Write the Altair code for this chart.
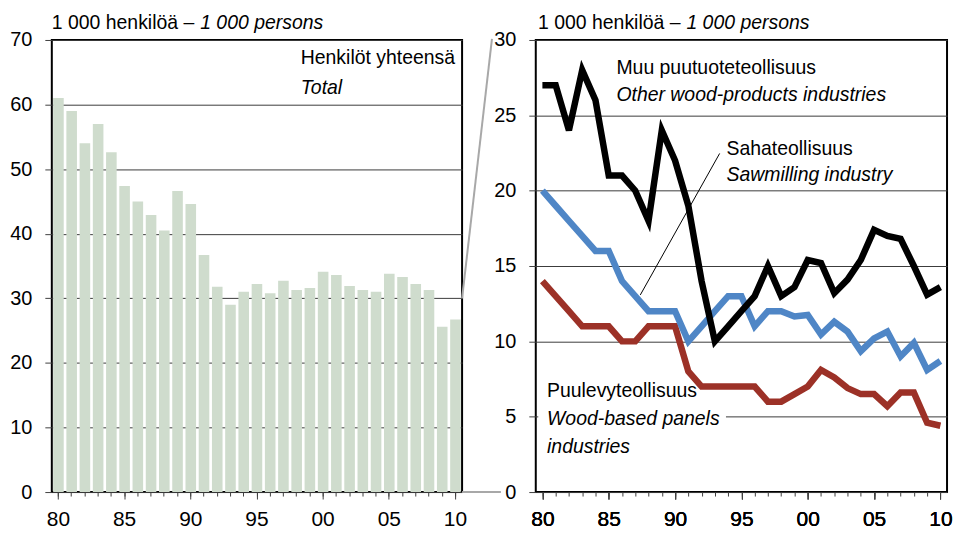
import altair as alt
import pandas as pd

# ---------------- data ----------------
years = list(range(1980, 2011))
total = [61.0, 59.0, 54.0, 57.0, 52.6, 47.4, 45.0, 42.9, 40.5, 46.6, 44.6,
         36.7, 31.8, 29.0, 31.0, 32.2, 30.8, 32.7, 31.3, 31.6, 34.1,
         33.6, 31.9, 31.3, 31.0, 33.8, 33.3, 32.2, 31.3, 25.6, 26.7]
other_wood = [27, 27, 24, 28, 26, 21, 21, 20, 18, 24, 22,
              19, 14, 10, 11, 12, 13, 15, 13, 13.6, 15.4,
              15.2, 13.2, 14.1, 15.4, 17.4, 17.0, 16.8, 15.0, 13.1, 13.6]
sawmill = [20, 19, 18, 17, 16, 16, 14, 13, 12, 12, 12,
           10, 11, 12, 13, 13, 11, 12, 12, 11.65, 11.75,
           10.45, 11.3, 10.65, 9.35, 10.2, 10.65, 9.0, 9.9, 8.1, 8.7]
panels = [14, 13, 12, 11, 11, 11, 10, 10, 11, 11, 11,
          8, 7, 7, 7, 7, 7, 6, 6, 6.5, 7.0,
          8.1, 7.6, 6.9, 6.5, 6.5, 5.7, 6.6, 6.6, 4.6, 4.4]
major_years = [1980, 1985, 1990, 1995, 2000, 2005, 2010]
left_ticks = list(range(0, 71, 10))
right_ticks = list(range(0, 31, 5))

# ---------------- style ----------------
FONT = "Liberation Sans, Arial, sans-serif"
WL, WR, H = 412, 413, 454
SPACING = 74
BAR = "#cfdccd"
BLACK = "#000000"
BLUE = "#4f86c6"
RED = "#9c3127"
GRID = "#3a3a3a"
TICK = "#404040"
LABEL_EXPR = "substring(toString(datum.value), 2, 4)"
TITLE_Y = -11

dummy = alt.Data(values=[{"a": 1}])


def txt(text, x, y, italic=False, size=19.5):
    return alt.Chart(dummy).mark_text(
        text=text, align="left", baseline="alphabetic", font=FONT,
        fontSize=size, fontStyle="italic" if italic else "normal", color="black"
    ).encode(x=alt.value(x), y=alt.value(y))


def x_major_axis():
    return alt.Axis(values=major_years, labelExpr=LABEL_EXPR, tickSize=7,
                    labelAngle=0, title=None, domain=False, grid=False,
                    labelFont=FONT, labelFontSize=21, labelPadding=10,
                    labelColor="black", tickColor=TICK, orient="bottom")


def x_minor_axis():
    return alt.Axis(values=years, labels=False, tickSize=4, title=None,
                    domain=False, grid=False, tickColor=TICK, orient="bottom")


def y_axis(vals):
    return alt.Axis(values=vals, tickSize=7, labelPadding=13, grid=True,
                    gridColor=GRID, gridWidth=1, domain=False, title=None,
                    labelFont=FONT, labelFontSize=20, labelColor="black",
                    tickColor=TICK)


# ---------------- left panel: bars ----------------
bar_df = pd.DataFrame({"year": years, "total": total})
xband = alt.Scale(paddingInner=0.2, paddingOuter=0.1)
yscale_l = alt.Scale(domain=[0, 70], nice=False)

bars = alt.Chart(bar_df).mark_bar(color=BAR).encode(
    x=alt.X("year:O", scale=xband, axis=x_major_axis()),
    y=alt.Y("total:Q", scale=yscale_l, axis=y_axis(left_ticks)),
)
bars_minor = alt.Chart(bar_df).mark_point(opacity=0).encode(
    x=alt.X("year:O", scale=xband, axis=x_minor_axis()),
)
connector1 = alt.Chart(dummy).mark_rule(color="#a8a8a8", strokeWidth=2).encode(
    x=alt.value(WL), y=alt.YDatum(30, scale=yscale_l, axis=y_axis(left_ticks)),
    x2=alt.value(WL + 30), y2=alt.value(-1)
)
connector2 = alt.Chart(dummy).mark_rule(color="#a8a8a8", strokeWidth=2).encode(
    x=alt.value(WL), x2=alt.value(WL + 39), y=alt.value(H)
)

left = alt.layer(
    bars, bars_minor, connector1, connector2,
    txt("1 000 henkilöä –", 0, TITLE_Y),
    txt("1 000 persons", 149, TITLE_Y, italic=True),
    txt("Henkilöt yhteensä", 250, 24.5),
    txt("Total", 250, 54.3, italic=True),
).resolve_axis(x="independent").properties(width=WL, height=H)

# ---------------- right panel: lines ----------------
xlin = alt.Scale(domain=[1979.5, 2010.5], nice=False, zero=False)
yscale_r = alt.Scale(domain=[0, 30], nice=False)


def series_line(vals, color):
    df = pd.DataFrame({"year": years, "value": vals})
    return alt.Chart(df).mark_line(color=color, strokeWidth=6.5).encode(
        x=alt.X("year:Q", scale=xlin, axis=x_major_axis()),
        y=alt.Y("value:Q", scale=yscale_r, axis=y_axis(right_ticks)),
    )


line_minor = alt.Chart(pd.DataFrame({"year": years})).mark_point(opacity=0).encode(
    x=alt.X("year:Q", scale=xlin, axis=x_minor_axis()),
)
white_box = alt.Chart(dummy).mark_rect(color="white").encode(
    x=alt.value(2.5), x2=alt.value(191), y=alt.value(371), y2=alt.value(386)
)
leader = alt.Chart(dummy).mark_rule(color="black", strokeWidth=1).encode(
    x=alt.XDatum(1987.38, scale=xlin, axis=None),
    y=alt.YDatum(13.08, scale=yscale_r, axis=y_axis(right_ticks)),
    x2=alt.X2Datum(1993.36), y2=alt.Y2Datum(22.47)
)

right = alt.layer(
    series_line(panels, RED),
    line_minor,
    series_line(sawmill, BLUE),
    series_line(other_wood, BLACK),
    white_box,
    leader,
    txt("1 000 henkilöä –", 2.3, TITLE_Y),
    txt("1 000 persons", 151.3, TITLE_Y, italic=True),
    txt("Muu puutuoteteollisuus", 81, 34.3),
    txt("Other wood-products industries", 81, 61, italic=True),
    txt("Sahateollisuus", 191.5, 116),
    txt("Sawmilling industry", 191.5, 142, italic=True),
    txt("Puulevyteollisuus", 11.3, 358.7),
    txt("Wood-based panels", 11.3, 387, italic=True),
    txt("industries", 11.3, 415, italic=True),
).resolve_axis(x="independent").properties(width=WR, height=H)

chart = alt.hconcat(left, right, spacing=SPACING, bounds="flush").properties(
    padding={"left": 0, "top": 3, "right": 0, "bottom": 0}
).configure_view(stroke="black", strokeWidth=2)

chart.save("out.html", embed_options={"renderer": "svg", "actions": False})
